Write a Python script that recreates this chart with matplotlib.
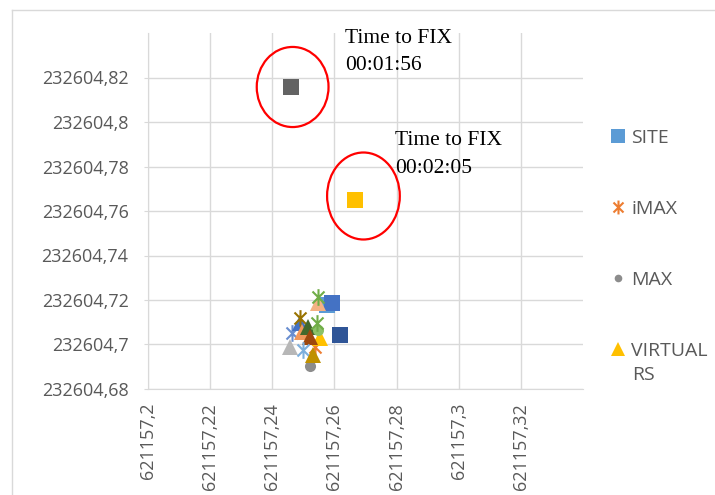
import matplotlib
matplotlib.use("Agg")
import matplotlib.pyplot as plt
from matplotlib.patches import Ellipse
from matplotlib.lines import Line2D
from matplotlib.path import Path
from matplotlib.ticker import FuncFormatter

# ---- data ----
series_names = ["SITE", "iMAX", "MAX", "VIRTUAL"] + ["_s%d" % i for i in range(15)]
x_vals = [621157.2575, 621157.2538, 621157.2520, 621157.2554,
          621157.2591, 621157.2463, 621157.2458, 621157.2490, 621157.2490,
          621157.2495, 621157.2516, 621157.2522, 621157.2548, 621157.2543,
          621157.2500, 621157.2530, 621157.2548, 621157.2548, 621157.2618]
y_vals = [232604.7178, 232604.6990, 232604.6905, 232604.7028,
          232604.7186, 232604.7051, 232604.6990, 232604.7096, 232604.7118,
          232604.7058, 232604.7080, 232604.7035, 232604.7066, 232604.7096,
          232604.6976, 232604.6953, 232604.7186, 232604.7215, 232604.7043]

# the two late fixes that are circled
fix_x = [621157.2461, 621157.2666]
fix_y = [232604.8159, 232604.7650]
fix_labels = ["Time to FIX\n00:01:56", "Time to FIX\n00:02:05"]

x_ticks = [621157.20, 621157.22, 621157.24, 621157.26, 621157.28, 621157.30, 621157.32]
y_ticks = [232604.68, 232604.70, 232604.72, 232604.74, 232604.76, 232604.78, 232604.80, 232604.82]

# ---- styles ----
# excel style star: vertical bar plus an X
AST = Path([(0, -1), (0, 1), (-0.72, -0.72), (0.72, 0.72), (-0.72, 0.72), (0.72, -0.72)],
           [Path.MOVETO, Path.LINETO] * 3)
series_colors = ["#5B9BD5", "#ED7D31", "#8C8C8C", "#FFC000",
                 "#4472C4", "#698ED0", "#B7B7B7", "#4472C4", "#997300",
                 "#F1975A", "#43682B", "#9E480E", "#8CC168", "#70AD47",
                 "#7CAFDD", "#BF9000", "#F4B183", "#70AD47", "#2F5597"]
series_markers = ["s", AST, "o", "^",
                  "s", AST, "^", "^", AST,
                  "^", "^", "^", "o", AST,
                  AST, "^", "^", AST, "s"]
fix_colors = ["#636363", "#FFC000"]

plt.rcParams["font.family"] = ["Open Sans", "DejaVu Sans"]
fig = plt.figure(figsize=(7.15, 4.95), dpi=100)
ax = fig.add_axes([148 / 715, 1 - 389 / 495, (583 - 148) / 715, (389 - 33) / 495])

grid_c = "#D9D9D9"
text_c = "#595959"

for name, x, y, c, m in zip(series_names, x_vals, y_vals, series_colors, series_markers):
    if m is AST:
        ax.plot([x], [y], linestyle="none", marker=m, markersize=12, markeredgewidth=1.5,
                color=c, label=name)
    elif m == "o":
        ax.plot([x], [y], linestyle="none", marker=m, markersize=8, color=c,
                markeredgewidth=0, label=name)
    else:
        ax.plot([x], [y], linestyle="none", marker=m, markersize=11, color=c,
                markeredgewidth=0, label=name)

for x, y, c in zip(fix_x, fix_y, fix_colors):
    ax.plot([x], [y], linestyle="none", marker="s", markersize=11, color=c,
            markeredgewidth=0, label="_nolegend_")

# red circles round the late fixes
ax.add_patch(Ellipse((621157.24655, 232604.81573), 0.0231, 0.0360,
                     fill=False, edgecolor="#FF0000", linewidth=1.6, clip_on=False))
ax.add_patch(Ellipse((621157.26934, 232604.76674), 0.0234, 0.0391,
                     fill=False, edgecolor="#FF0000", linewidth=1.6, clip_on=False))

ax.text(621157.2634, 232604.8420, fix_labels[0], family="Liberation Serif",
        fontsize=15.5, va="top", ha="left", color="black", clip_on=False, linespacing=1.6)
ax.text(621157.2795, 232604.7958, fix_labels[1], family="Liberation Serif",
        fontsize=15.5, va="top", ha="left", color="black", clip_on=False, linespacing=1.6)

ax.set_xlim(621157.20, 621157.34)
ax.set_ylim(232604.68, 232604.84)
ax.set_xticks(x_ticks)
ax.set_yticks(y_ticks)


def comma_fmt(v, pos):
    s = ("%.2f" % v).rstrip("0").rstrip(".")
    return s.replace(".", ",")


ax.xaxis.set_major_formatter(FuncFormatter(comma_fmt))
ax.yaxis.set_major_formatter(FuncFormatter(comma_fmt))
ax.grid(True, color=grid_c, linewidth=1)
ax.set_axisbelow(True)
for side in ["top", "right"]:
    ax.spines[side].set_visible(False)
for side in ["left", "bottom"]:
    ax.spines[side].set_color(grid_c)
ax.tick_params(axis="y", length=3, color=grid_c, pad=11, labelsize=13, labelcolor=text_c)
ax.tick_params(axis="x", length=0, pad=10, labelsize=13, labelcolor=text_c, labelrotation=90)

handles = [h for h in ax.get_lines() if not h.get_label().startswith("_")]
leg = fig.legend(handles=handles, labels=[h.get_label() for h in handles],
                 loc="upper left", bbox_to_anchor=(610 / 715, 1 - 129 / 495),
                 frameon=False, fontsize=14, labelcolor=text_c,
                 handlelength=0.8, handletextpad=0.3, labelspacing=2.72,
                 borderaxespad=0, borderpad=0)
for h, ms in zip(leg.legend_handles, [10, 10, 5.5, 10]):
    h.set_markersize(ms)
# second line of the wrapped "VIRTUAL RS" entry
fig.text(632 / 715, 1 - 375 / 495, "RS", fontsize=14, color=text_c, va="center", ha="left")

# outer chart border
fig.add_artist(Line2D([12 / 715, 1], [1 - 10 / 495, 1 - 10 / 495], color=grid_c, linewidth=1))
fig.add_artist(Line2D([12 / 715, 12 / 715], [0, 1 - 10 / 495], color=grid_c, linewidth=1))

fig.savefig("out.png", dpi=100, facecolor="white")
